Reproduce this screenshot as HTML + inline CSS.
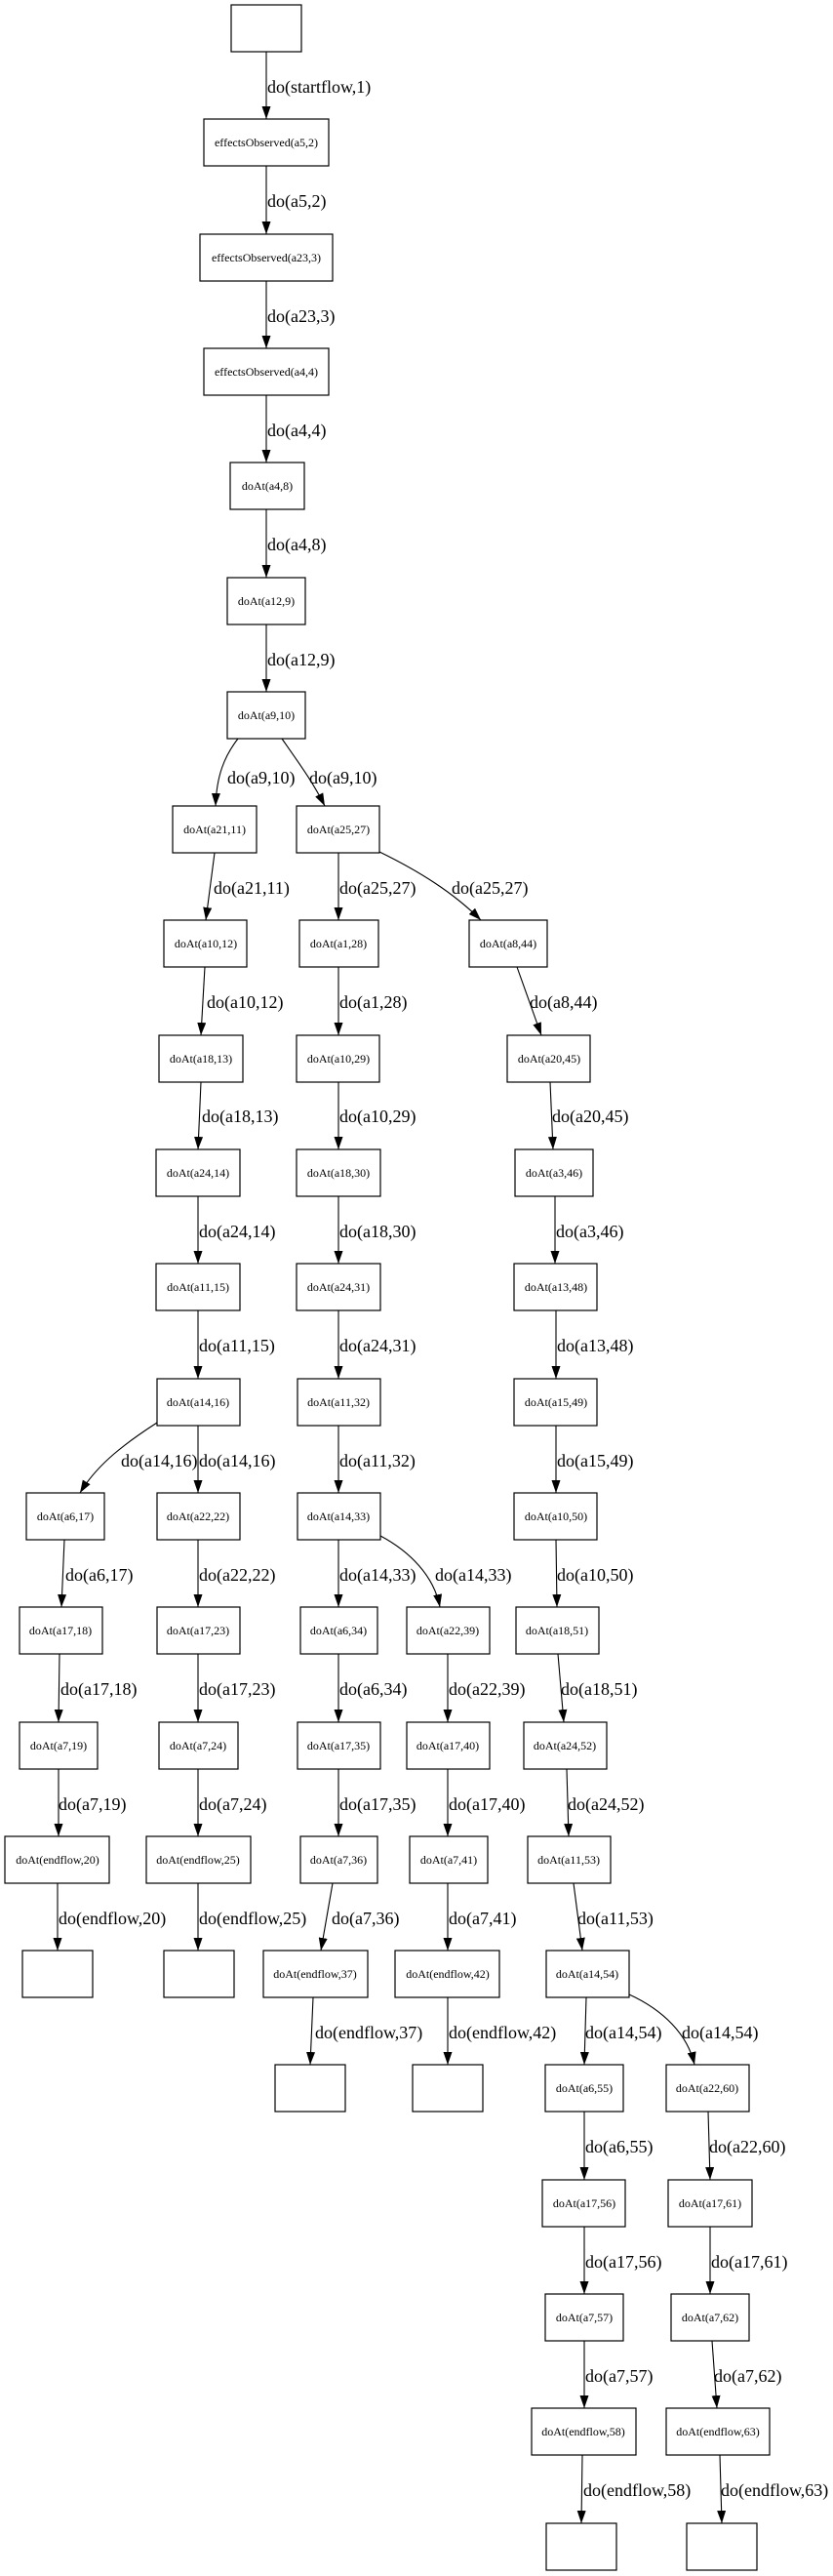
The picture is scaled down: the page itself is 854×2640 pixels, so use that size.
<!DOCTYPE html>
<html><head><meta charset="utf-8"><style>
html,body{margin:0;padding:0;background:#fff;}
svg{display:block;}
.n rect{fill:#fff;stroke:#000;stroke-width:1.2;}
.n text{font-family:"Liberation Serif",serif;font-size:12px;text-anchor:middle;}
.e path{fill:none;stroke:#000;stroke-width:1.1;marker-end:url(#a);}
.l{font-family:"Liberation Serif",serif;font-size:18px;}
</style></head><body>
<svg width="854" height="2640" viewBox="0 0 854 2640" xmlns="http://www.w3.org/2000/svg">
<defs><marker id="a" markerWidth="13" markerHeight="9" refX="13" refY="4.5" orient="auto" markerUnits="userSpaceOnUse"><path d="M0,0 L13,4.5 L0,9z" fill="#000"/></marker></defs>
<g class="n">
<rect x="237" y="5" width="72" height="48"/>
<rect x="209" y="122" width="128" height="48"/><text x="273" y="150">effectsObserved(a5,2)</text>
<rect x="205" y="240" width="136" height="48"/><text x="273" y="268">effectsObserved(a23,3)</text>
<rect x="209" y="357" width="128" height="48"/><text x="273" y="385">effectsObserved(a4,4)</text>
<rect x="236" y="474" width="76" height="48"/><text x="274" y="502">doAt(a4,8)</text>
<rect x="233" y="592" width="80" height="48"/><text x="273" y="620">doAt(a12,9)</text>
<rect x="233" y="709" width="80" height="48"/><text x="273" y="737">doAt(a9,10)</text>
<rect x="177" y="826" width="86" height="48"/><text x="220" y="854">doAt(a21,11)</text>
<rect x="304" y="826" width="85" height="48"/><text x="347" y="854">doAt(a25,27)</text>
<rect x="168" y="943" width="85" height="48"/><text x="211" y="971">doAt(a10,12)</text>
<rect x="307" y="943" width="81" height="48"/><text x="347" y="971">doAt(a1,28)</text>
<rect x="481" y="943" width="80" height="48"/><text x="521" y="971">doAt(a8,44)</text>
<rect x="163" y="1061" width="86" height="48"/><text x="206" y="1089">doAt(a18,13)</text>
<rect x="304" y="1061" width="85" height="48"/><text x="347" y="1089">doAt(a10,29)</text>
<rect x="520" y="1061" width="85" height="48"/><text x="563" y="1089">doAt(a20,45)</text>
<rect x="160" y="1178" width="86" height="48"/><text x="203" y="1206">doAt(a24,14)</text>
<rect x="304" y="1178" width="86" height="48"/><text x="347" y="1206">doAt(a18,30)</text>
<rect x="528" y="1178" width="80" height="48"/><text x="568" y="1206">doAt(a3,46)</text>
<rect x="160" y="1295" width="86" height="48"/><text x="203" y="1323">doAt(a11,15)</text>
<rect x="304" y="1295" width="86" height="48"/><text x="347" y="1323">doAt(a24,31)</text>
<rect x="527" y="1295" width="85" height="48"/><text x="570" y="1323">doAt(a13,48)</text>
<rect x="161" y="1413" width="85" height="48"/><text x="203" y="1441">doAt(a14,16)</text>
<rect x="305" y="1413" width="85" height="48"/><text x="347" y="1441">doAt(a11,32)</text>
<rect x="527" y="1413" width="85" height="48"/><text x="570" y="1441">doAt(a15,49)</text>
<rect x="27" y="1530" width="80" height="48"/><text x="67" y="1558">doAt(a6,17)</text>
<rect x="161" y="1530" width="85" height="48"/><text x="203" y="1558">doAt(a22,22)</text>
<rect x="305" y="1530" width="85" height="48"/><text x="347" y="1558">doAt(a14,33)</text>
<rect x="527" y="1530" width="85" height="48"/><text x="570" y="1558">doAt(a10,50)</text>
<rect x="20" y="1647" width="85" height="48"/><text x="62" y="1675">doAt(a17,18)</text>
<rect x="161" y="1647" width="85" height="48"/><text x="203" y="1675">doAt(a17,23)</text>
<rect x="308" y="1647" width="79" height="48"/><text x="347" y="1675">doAt(a6,34)</text>
<rect x="417" y="1647" width="85" height="48"/><text x="459" y="1675">doAt(a22,39)</text>
<rect x="529" y="1647" width="85" height="48"/><text x="571" y="1675">doAt(a18,51)</text>
<rect x="20" y="1765" width="80" height="48"/><text x="60" y="1793">doAt(a7,19)</text>
<rect x="163" y="1765" width="81" height="48"/><text x="203" y="1793">doAt(a7,24)</text>
<rect x="305" y="1765" width="85" height="48"/><text x="347" y="1793">doAt(a17,35)</text>
<rect x="417" y="1765" width="85" height="48"/><text x="459" y="1793">doAt(a17,40)</text>
<rect x="537" y="1765" width="85" height="48"/><text x="579" y="1793">doAt(a24,52)</text>
<rect x="5" y="1882" width="107" height="48"/><text x="59" y="1910">doAt(endflow,20)</text>
<rect x="150" y="1882" width="107" height="48"/><text x="203" y="1910">doAt(endflow,25)</text>
<rect x="308" y="1882" width="79" height="48"/><text x="347" y="1910">doAt(a7,36)</text>
<rect x="420" y="1882" width="80" height="48"/><text x="460" y="1910">doAt(a7,41)</text>
<rect x="541" y="1882" width="85" height="48"/><text x="583" y="1910">doAt(a11,53)</text>
<rect x="23" y="1999" width="72" height="48"/>
<rect x="168" y="1999" width="72" height="48"/>
<rect x="270" y="1999" width="107" height="48"/><text x="323" y="2027">doAt(endflow,37)</text>
<rect x="405" y="1999" width="107" height="48"/><text x="459" y="2027">doAt(endflow,42)</text>
<rect x="560" y="1999" width="85" height="48"/><text x="602" y="2027">doAt(a14,54)</text>
<rect x="282" y="2116" width="72" height="48"/>
<rect x="423" y="2116" width="72" height="48"/>
<rect x="559" y="2116" width="80" height="48"/><text x="599" y="2144">doAt(a6,55)</text>
<rect x="683" y="2116" width="85" height="48"/><text x="725" y="2144">doAt(a22,60)</text>
<rect x="556" y="2234" width="85" height="48"/><text x="599" y="2262">doAt(a17,56)</text>
<rect x="685" y="2234" width="86" height="48"/><text x="728" y="2262">doAt(a17,61)</text>
<rect x="559" y="2351" width="80" height="48"/><text x="599" y="2379">doAt(a7,57)</text>
<rect x="688" y="2351" width="80" height="48"/><text x="728" y="2379">doAt(a7,62)</text>
<rect x="545" y="2468" width="107" height="48"/><text x="598" y="2496">doAt(endflow,58)</text>
<rect x="683" y="2468" width="106" height="48"/><text x="736" y="2496">doAt(endflow,63)</text>
<rect x="560" y="2586" width="72" height="48"/>
<rect x="704" y="2586" width="72" height="48"/>
</g>
<g class="e">
<path d="M273,53 L273,122"/><path d="M273,170 L273,240"/><path d="M273,288 L273,357"/>
<path d="M273,405 L273,474"/><path d="M273,522 L273,592"/><path d="M273,640 L273,709"/>
<path d="M244,757 C230,775 222,795 221,826"/><path d="M289,757 C305,780 320,800 333,826"/>
<path d="M220,874 L211,943"/><path d="M210,991 L206,1061"/><path d="M206,1109 L203,1178"/>
<path d="M203,1226 L203,1295"/><path d="M203,1343 L203,1413"/>
<path d="M161,1458 C130,1478 100,1500 82,1530"/><path d="M203,1461 L203,1530"/>
<path d="M66,1578 L63,1647"/><path d="M61,1695 L60,1765"/><path d="M60,1813 L60,1882"/><path d="M59,1930 L59,1999"/>
<path d="M203,1578 L203,1647"/><path d="M203,1695 L203,1765"/><path d="M203,1813 L203,1882"/><path d="M203,1930 L203,1999"/>
<path d="M347,874 L347,943"/><path d="M389,873 C430,893 465,915 493,943"/>
<path d="M347,991 L347,1061"/><path d="M347,1109 L347,1178"/><path d="M347,1226 L347,1295"/>
<path d="M347,1343 L347,1413"/><path d="M347,1461 L347,1530"/><path d="M347,1578 L347,1647"/>
<path d="M390,1574 C420,1590 445,1615 451,1647"/>
<path d="M347,1695 L347,1765"/><path d="M347,1813 L347,1882"/><path d="M341,1930 L329,1999"/><path d="M321,2047 L318,2116"/>
<path d="M459,1695 L459,1765"/><path d="M459,1813 L459,1882"/><path d="M459,1930 L459,1999"/><path d="M459,2047 L459,2116"/>
<path d="M530,991 L555,1061"/><path d="M564,1109 L567,1178"/><path d="M569,1226 L569,1295"/>
<path d="M570,1343 L570,1413"/><path d="M570,1461 L570,1530"/><path d="M570,1578 L571,1647"/>
<path d="M572,1695 L578,1765"/><path d="M581,1813 L583,1882"/><path d="M588,1930 L597,1999"/>
<path d="M601,2047 L599,2116"/><path d="M645,2044 C680,2060 705,2085 712,2116"/>
<path d="M599,2164 L599,2234"/><path d="M599,2282 L599,2351"/><path d="M599,2399 L599,2468"/><path d="M597,2516 L596,2586"/>
<path d="M726,2164 L728,2234"/><path d="M728,2282 L728,2351"/><path d="M730,2399 L735,2468"/><path d="M738,2516 L740,2586"/>
</g>
<g class="l">
<text x="274" y="95">do(startflow,1)</text>
<text x="274" y="212">do(a5,2)</text>
<text x="274" y="330">do(a23,3)</text>
<text x="274" y="447">do(a4,4)</text>
<text x="274" y="564">do(a4,8)</text>
<text x="274" y="682">do(a12,9)</text>
<text x="233" y="803">do(a9,10)</text>
<text x="317" y="803">do(a9,10)</text>
<text x="219" y="916">do(a21,11)</text>
<text x="212" y="1033">do(a10,12)</text>
<text x="207" y="1150">do(a18,13)</text>
<text x="204" y="1268">do(a24,14)</text>
<text x="204" y="1385">do(a11,15)</text>
<text x="124" y="1503">do(a14,16)</text>
<text x="204" y="1503">do(a14,16)</text>
<text x="67" y="1620">do(a6,17)</text>
<text x="62" y="1737">do(a17,18)</text>
<text x="60" y="1855">do(a7,19)</text>
<text x="60" y="1972">do(endflow,20)</text>
<text x="204" y="1620">do(a22,22)</text>
<text x="204" y="1737">do(a17,23)</text>
<text x="204" y="1855">do(a7,24)</text>
<text x="204" y="1972">do(endflow,25)</text>
<text x="348" y="916">do(a25,27)</text>
<text x="463" y="916">do(a25,27)</text>
<text x="348" y="1033">do(a1,28)</text>
<text x="348" y="1150">do(a10,29)</text>
<text x="348" y="1268">do(a18,30)</text>
<text x="348" y="1385">do(a24,31)</text>
<text x="348" y="1503">do(a11,32)</text>
<text x="348" y="1620">do(a14,33)</text>
<text x="446" y="1620">do(a14,33)</text>
<text x="348" y="1737">do(a6,34)</text>
<text x="348" y="1855">do(a17,35)</text>
<text x="340" y="1972">do(a7,36)</text>
<text x="323" y="2089">do(endflow,37)</text>
<text x="460" y="1737">do(a22,39)</text>
<text x="460" y="1855">do(a17,40)</text>
<text x="460" y="1972">do(a7,41)</text>
<text x="460" y="2089">do(endflow,42)</text>
<text x="543" y="1033">do(a8,44)</text>
<text x="566" y="1150">do(a20,45)</text>
<text x="570" y="1268">do(a3,46)</text>
<text x="571" y="1385">do(a13,48)</text>
<text x="571" y="1503">do(a15,49)</text>
<text x="571" y="1620">do(a10,50)</text>
<text x="575" y="1737">do(a18,51)</text>
<text x="582" y="1855">do(a24,52)</text>
<text x="592" y="1972">do(a11,53)</text>
<text x="600" y="2089">do(a14,54)</text>
<text x="699" y="2089">do(a14,54)</text>
<text x="600" y="2206">do(a6,55)</text>
<text x="600" y="2324">do(a17,56)</text>
<text x="600" y="2441">do(a7,57)</text>
<text x="598" y="2558">do(endflow,58)</text>
<text x="727" y="2206">do(a22,60)</text>
<text x="729" y="2324">do(a17,61)</text>
<text x="732" y="2441">do(a7,62)</text>
<text x="739" y="2558">do(endflow,63)</text>
</g>
</svg>
</body></html>
